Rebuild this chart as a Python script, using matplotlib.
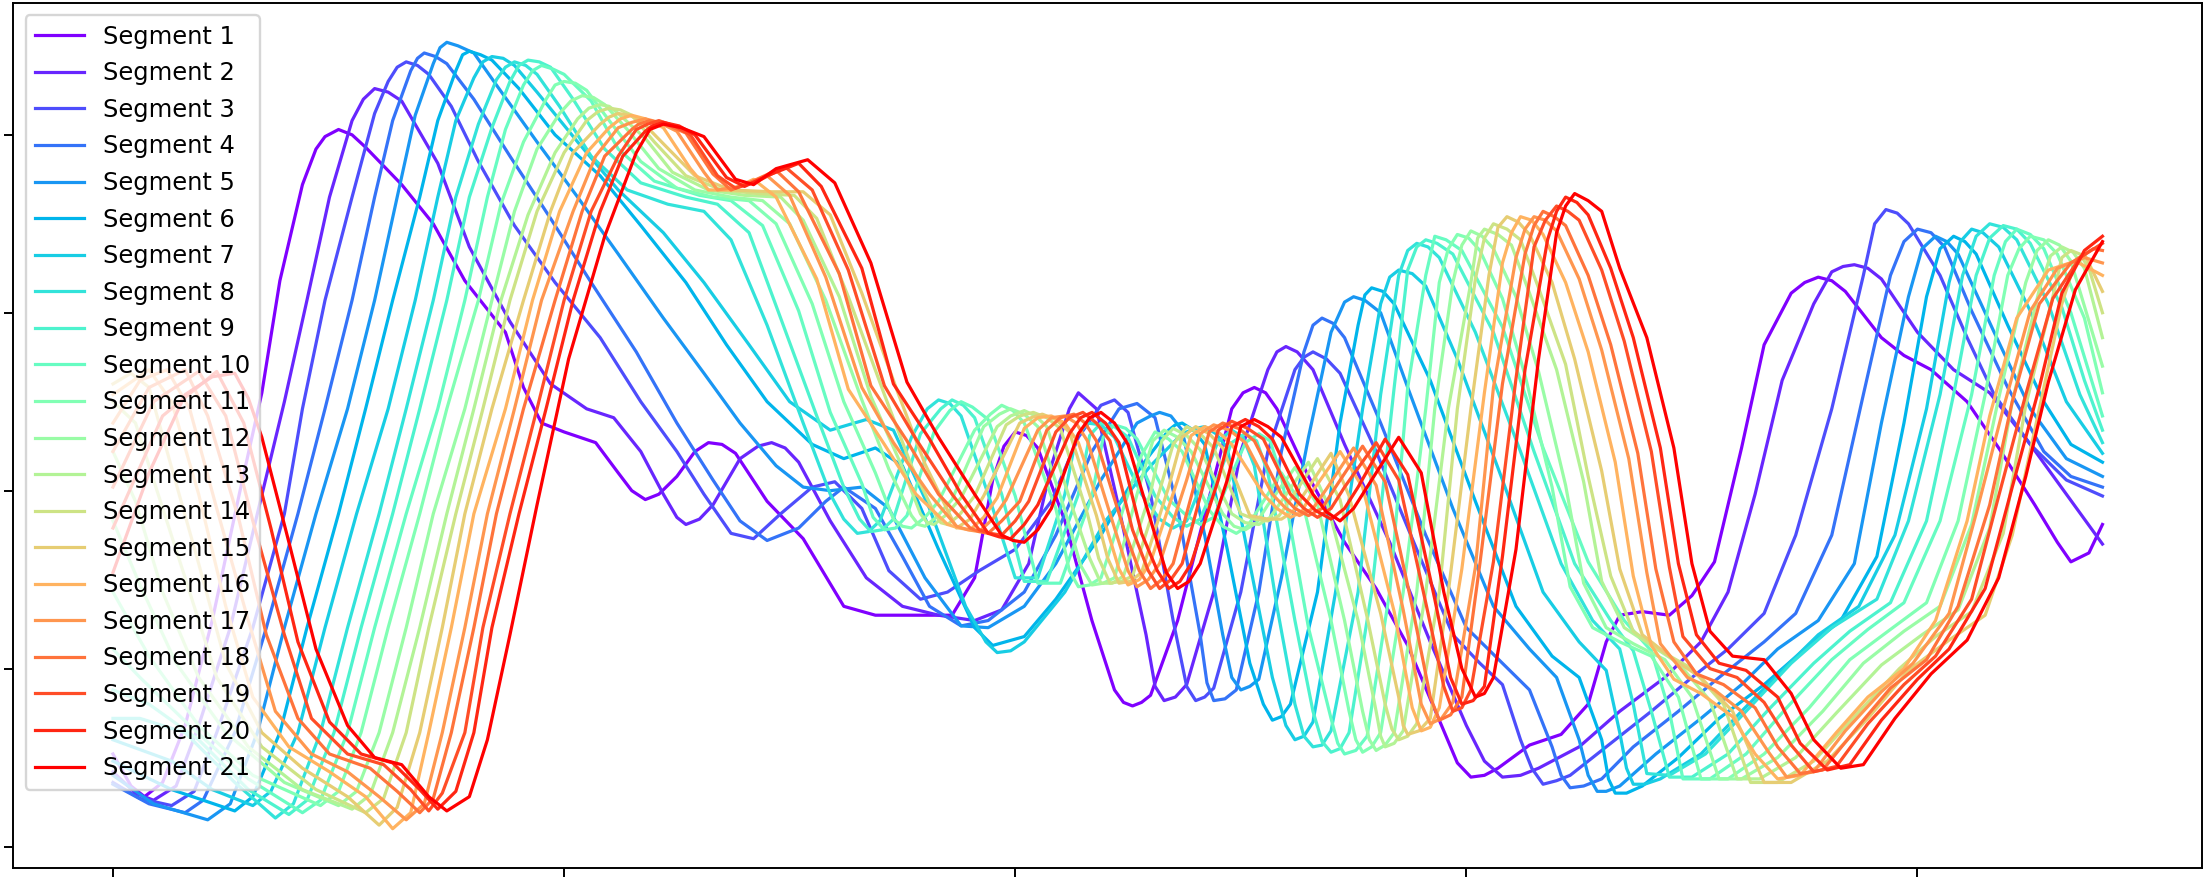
import numpy as np
import matplotlib
matplotlib.use("Agg")
import matplotlib.pyplot as plt

# sample index / amplitude pairs
seg01_x = [0, 4, 7, 11, 16, 22, 28, 33, 37, 42, 45, 47, 50, 53, 56, 64, 71, 78, 87, 91, 95, 100, 107, 112, 115, 118, 121, 125, 129, 132, 135, 138, 145, 153, 162, 169, 178, 186, 191, 195, 197.5, 200, 202.5, 205, 211, 217, 222, 224, 226, 228, 230, 236, 244, 248, 250.5, 253, 255.5, 258, 265, 273, 280, 287, 295, 298, 301, 304, 307, 314, 321, 327, 331, 334, 339, 345, 350, 355, 361, 366, 372, 375, 378, 381, 384, 392, 397, 403, 411, 418, 426, 431, 434, 438, 441]
seg01_y = [-1.48, -1.66, -1.72, -1.64, -1.32, -0.73, -0.02, 0.55, 1.18, 1.72, 1.92, 1.99, 2.03, 2.00, 1.93, 1.72, 1.50, 1.18, 0.89, 0.58, 0.38, 0.33, 0.27, 0.10, 0.00, -0.05, -0.02, 0.08, 0.22, 0.27, 0.26, 0.21, -0.06, -0.27, -0.65, -0.70, -0.70, -0.70, -0.49, 0.06, 0.25, 0.33, 0.31, 0.24, -0.17, -0.73, -1.12, -1.19, -1.21, -1.19, -1.15, -0.73, 0.06, 0.46, 0.55, 0.58, 0.55, 0.46, 0.08, -0.29, -0.55, -0.87, -1.35, -1.53, -1.61, -1.60, -1.56, -1.43, -1.37, -1.20, -0.85, -0.70, -0.68, -0.70, -0.59, -0.40, 0.24, 0.82, 1.11, 1.17, 1.20, 1.18, 1.12, 0.86, 0.76, 0.68, 0.50, 0.24, -0.08, -0.29, -0.40, -0.35, -0.19]

seg02_x = [0, 5, 9, 14, 19, 26, 32, 38, 43, 48, 53, 55.5, 58, 61, 64, 72, 79, 88, 97, 105, 111, 117, 122, 125, 127, 130, 133, 139, 143, 146, 149, 152, 159, 167, 175, 183, 191, 197, 203, 208, 212, 214, 218, 223, 229, 231, 233, 235.5, 238, 244, 250, 256, 258, 260, 262.5, 266, 273, 283, 292, 300, 304, 308, 312, 316, 325, 334, 344, 352, 358, 364, 370, 377, 381, 383.5, 386, 389, 392, 400, 408, 416, 425, 433, 441]
seg02_y = [-1.58, -1.70, -1.74, -1.66, -1.32, -0.77, -0.13, 0.50, 1.07, 1.65, 2.08, 2.20, 2.26, 2.24, 2.19, 1.84, 1.37, 0.95, 0.60, 0.46, 0.41, 0.22, -0.02, -0.15, -0.19, -0.16, -0.08, 0.18, 0.25, 0.27, 0.24, 0.16, -0.17, -0.49, -0.65, -0.70, -0.73, -0.67, -0.41, 0.14, 0.46, 0.55, 0.46, -0.10, -0.81, -1.10, -1.18, -1.16, -1.09, -0.57, 0.22, 0.68, 0.78, 0.81, 0.78, 0.68, 0.26, -0.29, -0.85, -1.32, -1.52, -1.61, -1.60, -1.56, -1.44, -1.24, -1.05, -0.85, -0.57, -0.02, 0.62, 1.05, 1.23, 1.26, 1.27, 1.25, 1.19, 0.89, 0.68, 0.55, 0.26, -0.02, -0.30]

seg03_x = [0, 6, 13, 18, 23, 31, 38, 42, 47, 53, 58, 61, 63, 65, 67.5, 70, 75, 81, 89, 98, 108, 117, 125, 131, 137, 142, 148, 155, 160, 166, 172, 179, 185, 192, 200, 208, 214, 219, 222, 225, 230, 235, 238, 240, 242, 244, 250, 256, 262, 264, 266, 269, 272, 280, 289, 297, 303, 308, 312, 314.5, 317, 320, 323, 331, 341, 350, 358, 366, 373, 381, 388, 390.5, 393, 395.5, 398, 405, 411, 417, 425, 433, 441]
seg03_y = [-1.64, -1.73, -1.77, -1.69, -1.36, -0.77, -0.13, 0.46, 1.07, 1.65, 2.12, 2.30, 2.38, 2.41, 2.39, 2.34, 2.16, 1.85, 1.49, 1.17, 0.86, 0.50, 0.22, -0.02, -0.24, -0.27, -0.13, 0.02, 0.05, -0.10, -0.45, -0.61, -0.57, -0.45, -0.33, -0.06, 0.30, 0.48, 0.51, 0.44, -0.02, -0.73, -1.10, -1.18, -1.16, -1.11, -0.57, 0.22, 0.68, 0.75, 0.78, 0.74, 0.66, 0.22, -0.33, -0.81, -0.97, -1.09, -1.40, -1.56, -1.65, -1.63, -1.60, -1.44, -1.24, -1.05, -0.89, -0.69, -0.25, 0.46, 1.21, 1.50, 1.58, 1.56, 1.50, 1.21, 0.86, 0.54, 0.26, 0.06, -0.03]

seg04_x = [0, 8, 16, 20, 27, 34, 41, 47, 53, 58, 62, 66, 67.5, 69, 71.5, 74, 80, 88, 97, 106, 116, 125, 133, 139, 145, 152, 158, 162, 169, 175, 181, 188, 194, 202, 209, 217, 223, 227, 231, 236, 241, 242.5, 244, 246.5, 249, 254, 259, 264, 266, 268, 270.5, 273, 281, 291, 300, 308, 314, 319, 321, 323, 326, 330, 337, 347, 356, 366, 373, 381, 388, 394, 397, 400, 403, 406, 412, 420, 428, 434, 441]
seg04_y = [-1.65, -1.76, -1.81, -1.74, -1.36, -0.77, -0.13, 0.46, 1.07, 1.65, 2.08, 2.36, 2.43, 2.46, 2.44, 2.40, 2.20, 1.88, 1.53, 1.17, 0.78, 0.38, 0.06, -0.17, -0.28, -0.21, -0.06, 0.02, -0.10, -0.37, -0.65, -0.76, -0.73, -0.57, -0.25, 0.22, 0.46, 0.49, 0.41, -0.10, -0.81, -1.08, -1.18, -1.17, -1.12, -0.57, 0.22, 0.78, 0.93, 0.97, 0.94, 0.86, 0.38, -0.25, -0.77, -0.97, -1.12, -1.44, -1.60, -1.67, -1.66, -1.62, -1.44, -1.24, -1.05, -0.85, -0.69, -0.25, 0.54, 1.21, 1.40, 1.47, 1.45, 1.37, 1.01, 0.58, 0.22, 0.08, 0.02]

seg05_x = [0, 9, 21, 26, 32, 38, 45, 52, 58, 63, 67, 71, 72.5, 74, 76.5, 80, 85, 94, 103, 112, 122, 131, 139, 147, 153, 159, 166, 172, 180, 188, 194, 202, 209, 219, 227, 230, 232, 234.5, 237, 242, 246, 248, 250, 252, 254, 259, 265, 270, 273, 275, 277.5, 281, 287, 297, 306, 314, 320, 325, 327, 329, 331, 334, 342, 352, 361, 369, 378, 386, 392, 398, 401, 404, 406.5, 409, 417, 425, 433, 441]
seg05_y = [-1.60, -1.76, -1.85, -1.76, -1.36, -0.77, -0.13, 0.46, 1.07, 1.65, 2.11, 2.40, 2.49, 2.52, 2.50, 2.46, 2.28, 1.96, 1.65, 1.33, 0.97, 0.66, 0.38, 0.14, 0.02, 0.00, 0.02, -0.10, -0.49, -0.76, -0.77, -0.65, -0.41, 0.06, 0.38, 0.42, 0.44, 0.42, 0.34, -0.25, -0.81, -1.05, -1.12, -1.10, -1.06, -0.49, 0.30, 0.89, 1.06, 1.09, 1.07, 1.00, 0.58, -0.10, -0.65, -0.89, -1.05, -1.40, -1.60, -1.69, -1.69, -1.66, -1.48, -1.28, -1.09, -0.89, -0.73, -0.41, 0.38, 1.09, 1.36, 1.43, 1.40, 1.33, 0.89, 0.46, 0.18, 0.08]

seg06_x = [0, 13, 27, 31, 37, 43, 50, 56, 62, 68, 72, 76, 77.5, 79, 81.5, 84, 90, 98, 108, 117, 127, 136, 145, 155, 162, 169, 175, 183, 191, 195, 202, 209, 219, 228, 234, 235.5, 237, 239.5, 242, 247, 252, 255, 257, 259, 261, 267, 272, 276, 277.5, 279, 281.5, 284, 292, 302, 311, 319, 325, 330, 331.5, 333, 335.5, 339, 347, 356, 366, 375, 383, 391, 397, 402, 405, 408, 410.5, 413, 420, 428, 434, 441]
seg06_y = [-1.52, -1.68, -1.80, -1.72, -1.36, -0.77, -0.13, 0.46, 1.07, 1.65, 2.08, 2.36, 2.45, 2.47, 2.45, 2.42, 2.26, 2.00, 1.77, 1.49, 1.17, 0.82, 0.50, 0.26, 0.18, 0.24, 0.14, -0.33, -0.77, -0.87, -0.82, -0.61, -0.25, 0.14, 0.34, 0.37, 0.38, 0.34, 0.26, -0.33, -0.97, -1.20, -1.29, -1.27, -1.20, -0.57, 0.38, 0.93, 1.10, 1.14, 1.12, 1.05, 0.62, -0.06, -0.65, -0.93, -1.05, -1.40, -1.62, -1.70, -1.70, -1.66, -1.50, -1.28, -1.09, -0.89, -0.73, -0.37, 0.38, 1.09, 1.36, 1.43, 1.40, 1.33, 0.93, 0.50, 0.26, 0.16]

seg07_x = [0, 13, 22, 31, 35, 41, 47, 54, 61, 67, 72, 76, 80, 82, 84, 86.5, 89, 94, 103, 112, 122, 131, 141, 150, 159, 167, 173, 181, 189, 193.5, 196, 199, 202, 211, 220, 230, 237, 240, 242, 244.5, 247, 252, 257, 260, 262, 264, 266, 271, 277, 281, 283, 285, 288, 291, 298, 308, 317, 325, 331, 334, 335.5, 337, 339.5, 343, 352, 361, 370, 378, 387, 395, 402, 407, 409.5, 412, 414.5, 418, 425, 433, 441]
seg07_y = [-1.40, -1.52, -1.68, -1.77, -1.69, -1.36, -0.77, -0.13, 0.46, 1.07, 1.65, 2.08, 2.32, 2.41, 2.44, 2.43, 2.39, 2.24, 1.96, 1.69, 1.45, 1.17, 0.82, 0.50, 0.34, 0.40, 0.34, -0.10, -0.65, -0.85, -0.91, -0.90, -0.85, -0.57, -0.17, 0.14, 0.32, 0.35, 0.36, 0.32, 0.24, -0.41, -1.05, -1.32, -1.40, -1.38, -1.30, -0.57, 0.46, 1.05, 1.20, 1.24, 1.22, 1.15, 0.74, 0.06, -0.57, -0.85, -1.01, -1.36, -1.56, -1.65, -1.65, -1.62, -1.48, -1.24, -1.01, -0.81, -0.65, -0.25, 0.46, 1.17, 1.40, 1.47, 1.45, 1.37, 1.01, 0.50, 0.21]

seg08_x = [0, 6, 16, 27, 36, 40, 46, 52, 59, 65, 71, 76, 81, 85, 87, 89, 91.5, 94, 99, 106, 114, 123, 131, 137, 145, 153, 159, 162, 165, 167.5, 170, 177, 180.5, 183, 185.5, 188, 194, 200, 205, 211, 213.5, 216, 219, 222, 228, 232, 235, 238, 241, 245, 248, 250.5, 253, 258, 262, 264, 266, 268, 270, 276, 281, 285, 287, 289, 291.5, 294, 302, 312, 321, 328, 334, 337, 340, 345, 353, 362, 372, 381, 391, 398, 405, 410, 413, 416, 419, 422, 429, 436, 441]
seg08_y = [-1.28, -1.28, -1.36, -1.64, -1.84, -1.76, -1.36, -0.77, -0.13, 0.46, 1.07, 1.65, 2.06, 2.31, 2.38, 2.41, 2.39, 2.34, 2.16, 1.88, 1.69, 1.61, 1.57, 1.41, 0.93, 0.38, -0.02, -0.16, -0.24, -0.23, -0.17, 0.30, 0.46, 0.51, 0.49, 0.42, -0.02, -0.49, -0.49, -0.02, 0.30, 0.38, 0.37, 0.30, -0.02, -0.16, -0.21, -0.17, 0.02, 0.28, 0.34, 0.30, 0.14, -0.65, -1.20, -1.38, -1.44, -1.43, -1.35, -0.57, 0.54, 1.21, 1.35, 1.39, 1.37, 1.31, 0.89, 0.22, -0.41, -0.73, -0.89, -1.20, -1.59, -1.60, -1.48, -1.24, -0.97, -0.77, -0.61, -0.17, 0.54, 1.21, 1.43, 1.50, 1.48, 1.41, 1.05, 0.54, 0.27]

seg09_x = [0, 8, 19, 30, 39, 43, 49, 55, 62, 68, 74, 79, 84, 88, 90, 92, 94.5, 97, 102, 109, 117, 127, 134, 141, 148, 156, 162, 165.5, 168, 170.5, 173, 179, 183.5, 186, 188.5, 191, 197, 202, 207, 214, 216.5, 219, 222, 225, 231, 235, 238, 241, 244, 248, 251, 253.5, 256, 262, 266, 268, 270, 272, 274, 279, 284, 287, 289, 291, 293.5, 297, 306, 315, 324, 332, 337, 341, 345, 350, 358, 367, 377, 385, 394, 402, 408, 413, 416, 419, 422, 425, 432, 437, 441]
seg09_y = [-1.12, -1.20, -1.40, -1.68, -1.82, -1.74, -1.36, -0.77, -0.13, 0.46, 1.07, 1.65, 2.04, 2.30, 2.39, 2.42, 2.41, 2.38, 2.20, 1.92, 1.73, 1.65, 1.61, 1.45, 0.97, 0.42, 0.02, -0.16, -0.23, -0.22, -0.16, 0.32, 0.46, 0.51, 0.48, 0.41, -0.02, -0.51, -0.51, -0.02, 0.31, 0.38, 0.36, 0.30, -0.03, -0.15, -0.20, -0.16, 0.02, 0.27, 0.32, 0.28, 0.10, -0.73, -1.24, -1.41, -1.47, -1.45, -1.36, -0.57, 0.58, 1.24, 1.37, 1.41, 1.39, 1.33, 0.89, 0.22, -0.41, -0.73, -0.90, -1.24, -1.61, -1.61, -1.48, -1.23, -0.97, -0.79, -0.63, -0.17, 0.54, 1.21, 1.42, 1.49, 1.47, 1.39, 1.03, 0.62, 0.34]

seg10_x = [0, 6, 17, 30, 42, 46, 52, 58, 65, 72, 78, 83, 87, 91, 93, 95, 97.5, 100, 106, 112, 120, 130, 137, 144, 152, 159, 166, 168.5, 171, 173.5, 176, 182, 185.5, 188, 190.5, 194, 200, 205, 210, 217, 219.5, 222, 224.5, 227, 234, 238, 241, 244, 247, 251, 254, 256.5, 259, 265, 270, 271.5, 273, 275.5, 278, 283, 287, 291, 293, 295.5, 299, 308, 317, 327, 335, 341, 345, 348, 354, 362, 371, 381, 389, 397, 405, 412, 417, 419.5, 422, 425, 428, 434, 441]
seg10_y = [-0.89, -1.05, -1.32, -1.62, -1.81, -1.74, -1.36, -0.77, -0.13, 0.46, 1.07, 1.65, 2.03, 2.28, 2.36, 2.39, 2.37, 2.34, 2.19, 1.92, 1.74, 1.66, 1.63, 1.49, 1.01, 0.44, 0.04, -0.15, -0.22, -0.21, -0.14, 0.33, 0.45, 0.50, 0.47, 0.40, -0.03, -0.52, -0.52, -0.03, 0.30, 0.37, 0.35, 0.29, -0.05, -0.14, -0.19, -0.15, 0.03, 0.27, 0.32, 0.28, 0.08, -0.77, -1.28, -1.42, -1.48, -1.46, -1.38, -0.57, 0.58, 1.21, 1.43, 1.41, 1.35, 0.92, 0.24, -0.40, -0.73, -0.90, -1.24, -1.62, -1.62, -1.48, -1.22, -0.95, -0.78, -0.63, -0.17, 0.54, 1.21, 1.40, 1.47, 1.44, 1.36, 1.00, 0.42]

seg11_x = [0, 8, 19, 31, 46, 50, 55, 61, 68, 74, 81, 86, 91, 96, 98, 100, 102.5, 105, 110, 117, 125, 133, 141, 147, 155, 162, 169, 173, 175, 177, 180, 183, 191, 194.5, 197, 199.5, 202, 209, 212, 214, 216.5, 219, 225, 228, 231, 234, 237, 243, 246, 249, 251.5, 254, 259, 264, 270, 274, 275.5, 277, 279, 281, 286, 291, 294, 296, 298, 300.5, 303, 308, 313, 319, 323, 328, 334, 341, 347, 352, 358, 366, 376, 385, 394, 402, 409, 415, 420, 422.5, 425, 428, 431, 437, 441]
seg11_y = [-0.57, -0.93, -1.32, -1.60, -1.77, -1.69, -1.36, -0.77, -0.13, 0.46, 1.07, 1.61, 1.96, 2.20, 2.28, 2.30, 2.29, 2.25, 2.08, 1.85, 1.70, 1.65, 1.63, 1.50, 1.05, 0.50, 0.10, -0.16, -0.20, -0.21, -0.15, -0.06, 0.34, 0.43, 0.48, 0.45, 0.38, -0.10, -0.45, -0.54, -0.53, -0.49, -0.02, 0.20, 0.33, 0.29, 0.22, -0.11, -0.20, -0.24, -0.20, -0.10, 0.10, -0.10, -0.73, -1.24, -1.40, -1.47, -1.44, -1.36, -0.57, 0.46, 1.17, 1.36, 1.44, 1.42, 1.35, 1.08, 0.65, 0.02, -0.54, -0.77, -0.85, -0.93, -1.16, -1.62, -1.62, -1.48, -1.22, -0.95, -0.78, -0.63, -0.17, 0.54, 1.21, 1.36, 1.43, 1.41, 1.33, 0.97, 0.55]

seg12_x = [0, 6, 14, 25, 38, 50, 54, 59, 65, 71, 78, 84, 89, 94, 99, 101.5, 104, 106.5, 109, 114, 121, 129, 137, 144, 150, 158, 166, 172, 177, 178.5, 180, 182.5, 186, 193, 196.5, 199, 202, 205, 211, 214.5, 217, 219.5, 222, 227, 230.5, 233, 236, 239, 246, 248.5, 251, 253.5, 256, 262, 267, 273, 277, 278.5, 280, 282, 284, 289, 293, 297, 299, 301, 303.5, 306, 311, 316, 322, 326, 331, 337, 344, 350, 356, 361, 369, 379, 388, 397, 405, 412, 418, 424, 426.5, 429, 431.5, 434, 441]
seg12_y = [-0.17, -0.53, -0.97, -1.36, -1.64, -1.77, -1.69, -1.36, -0.77, -0.13, 0.46, 1.07, 1.57, 1.92, 2.12, 2.19, 2.22, 2.21, 2.17, 2.03, 1.81, 1.69, 1.65, 1.63, 1.50, 1.07, 0.51, 0.12, -0.14, -0.19, -0.20, -0.15, -0.05, 0.36, 0.43, 0.46, 0.43, 0.36, -0.11, -0.42, -0.53, -0.52, -0.49, -0.02, 0.28, 0.34, 0.30, 0.22, -0.13, -0.20, -0.22, -0.18, -0.08, 0.13, -0.08, -0.73, -1.24, -1.40, -1.46, -1.43, -1.36, -0.57, 0.46, 1.17, 1.38, 1.46, 1.43, 1.36, 1.09, 0.67, 0.03, -0.52, -0.77, -0.86, -0.95, -1.16, -1.62, -1.62, -1.50, -1.24, -0.97, -0.79, -0.65, -0.19, 0.52, 1.17, 1.35, 1.41, 1.38, 1.29, 0.70]

seg13_x = [0, 5, 11, 19, 30, 42, 53, 57, 62, 68, 74, 80, 86, 92, 98, 103, 105.5, 108, 110, 112, 118, 124, 132, 140, 148, 153, 161, 168, 175, 179, 180.5, 182, 184.5, 188, 196, 199, 202, 204.5, 207, 213, 216.5, 219, 221.5, 224, 230, 232.5, 235, 238, 241, 248, 251, 254, 256.5, 259, 265, 269, 276, 280, 281, 282, 284, 286, 291, 296, 301, 302.5, 304, 307, 310, 314, 320, 326, 330, 335, 341, 347, 354, 360, 365, 373, 382, 392, 401, 409, 416, 421, 427, 429.5, 432, 434.5, 437, 441]
seg13_y = [0.22, -0.06, -0.57, -1.05, -1.44, -1.68, -1.79, -1.71, -1.36, -0.77, -0.13, 0.46, 1.07, 1.55, 1.90, 2.09, 2.15, 2.17, 2.16, 2.12, 1.98, 1.79, 1.69, 1.66, 1.65, 1.52, 1.09, 0.53, 0.13, -0.13, -0.18, -0.19, -0.14, -0.04, 0.36, 0.42, 0.45, 0.42, 0.36, -0.12, -0.38, -0.52, -0.52, -0.48, -0.01, 0.28, 0.35, 0.31, 0.23, -0.13, -0.18, -0.19, -0.15, -0.06, 0.16, -0.06, -0.73, -1.24, -1.38, -1.44, -1.42, -1.35, -0.57, 0.46, 1.17, 1.42, 1.47, 1.44, 1.38, 1.11, 0.68, 0.05, -0.51, -0.77, -0.87, -0.97, -1.18, -1.62, -1.62, -1.50, -1.25, -0.98, -0.81, -0.67, -0.21, 0.50, 1.13, 1.32, 1.37, 1.34, 1.25, 0.86]

seg14_x = [0, 5, 9, 16, 23, 33, 45, 56, 60, 65, 70, 76, 82, 88, 94, 100, 105, 107.5, 110, 112.5, 115, 120, 127, 135, 143, 151, 156, 163, 171, 177, 182, 183.5, 185, 187.5, 191, 198, 201, 204, 207, 210, 216, 218.5, 221, 223.5, 226, 232, 235, 238, 241, 244, 250, 253, 256, 258.5, 261, 267, 272, 278, 282, 283.5, 285, 287, 289, 294, 298, 302, 304, 306, 309, 312, 316, 322, 327, 332, 337, 343, 350, 357, 363, 369, 377, 386, 396, 404, 412, 419, 424, 430, 432, 434, 436, 438, 441]
seg14_y = [0.50, 0.38, 0.06, -0.49, -1.05, -1.44, -1.68, -1.81, -1.73, -1.36, -0.77, -0.13, 0.46, 1.07, 1.57, 1.90, 2.08, 2.13, 2.15, 2.14, 2.11, 1.96, 1.77, 1.69, 1.67, 1.66, 1.53, 1.09, 0.54, 0.14, -0.12, -0.18, -0.19, -0.14, -0.03, 0.37, 0.42, 0.44, 0.41, 0.35, -0.13, -0.38, -0.52, -0.51, -0.48, 0.00, 0.26, 0.36, 0.32, 0.24, -0.13, -0.16, -0.17, -0.14, -0.05, 0.18, -0.05, -0.71, -1.20, -1.34, -1.40, -1.38, -1.31, -0.57, 0.46, 1.19, 1.42, 1.50, 1.47, 1.41, 1.14, 0.71, 0.08, -0.48, -0.79, -0.90, -1.00, -1.20, -1.64, -1.64, -1.52, -1.27, -1.00, -0.82, -0.68, -0.24, 0.48, 1.09, 1.31, 1.35, 1.33, 1.25, 1.00]

seg15_x = [0, 4, 8, 12, 19, 25, 33, 42, 52, 59, 63, 68, 73, 78, 84, 91, 97, 102, 108, 110, 112, 114.5, 117, 122, 129, 137, 146, 153, 159, 166, 174, 180, 185, 187, 190, 193, 201, 203.5, 206, 209, 212, 218, 220.5, 223, 225.5, 228, 234, 237, 240, 243, 246, 252, 256, 259, 261.5, 264, 270, 274, 281, 285, 286, 287, 289.5, 292, 296, 301, 305, 307, 309, 311.5, 314, 319, 324, 330, 334, 339, 346, 352, 359, 366, 372, 380, 389, 398, 407, 415, 421, 427, 432, 434.5, 437, 441]
seg15_y = [0.60, 0.66, 0.58, 0.22, -0.41, -0.97, -1.36, -1.56, -1.72, -1.88, -1.78, -1.36, -0.77, -0.13, 0.46, 1.07, 1.57, 1.90, 2.06, 2.10, 2.12, 2.11, 2.08, 1.95, 1.77, 1.69, 1.68, 1.68, 1.55, 1.11, 0.55, 0.15, -0.11, -0.21, -0.16, -0.03, 0.38, 0.41, 0.43, 0.40, 0.33, -0.14, -0.38, -0.52, -0.51, -0.46, 0.02, 0.30, 0.36, 0.32, 0.24, -0.14, -0.16, -0.16, -0.12, -0.02, 0.21, -0.03, -0.69, -1.16, -1.32, -1.37, -1.35, -1.28, -0.57, 0.46, 1.21, 1.48, 1.54, 1.51, 1.44, 1.17, 0.74, 0.11, -0.44, -0.81, -0.95, -1.05, -1.24, -1.64, -1.64, -1.52, -1.28, -1.01, -0.84, -0.70, -0.25, 0.46, 1.05, 1.25, 1.33, 1.12]

seg16_x = [0, 8, 13, 19, 25, 31, 39, 48, 56, 62, 66, 70, 75, 80, 87, 93, 99, 105, 110, 112.5, 115, 118, 122, 128, 132, 137, 142, 147, 156, 163, 171, 178, 185, 187.5, 190, 193, 196, 202, 205, 208, 211, 214, 220, 223, 225, 227.5, 230, 236, 239, 242, 245, 248, 255, 258, 261, 263.5, 266, 272, 277, 284, 288, 290, 292, 294, 299, 304, 308, 310, 312, 314.5, 317, 322, 327, 333, 337, 341, 346, 352, 359, 364, 369, 374, 382, 389, 397, 404, 411, 416, 422, 429, 435, 441]
seg16_y = [0.54, 0.68, 0.50, -0.02, -0.65, -1.16, -1.44, -1.58, -1.72, -1.90, -1.81, -1.36, -0.77, -0.13, 0.46, 1.07, 1.57, 1.90, 2.04, 2.09, 2.11, 2.09, 2.04, 1.81, 1.69, 1.69, 1.75, 1.65, 1.19, 0.57, 0.26, -0.02, -0.19, -0.21, -0.22, -0.15, -0.04, 0.35, 0.41, 0.42, 0.38, 0.27, -0.19, -0.44, -0.53, -0.50, -0.40, 0.06, 0.31, 0.36, 0.33, 0.26, -0.02, -0.10, -0.15, -0.12, 0.00, 0.22, 0.02, -0.68, -1.22, -1.35, -1.33, -1.22, -0.44, 0.55, 1.28, 1.45, 1.54, 1.52, 1.44, 1.17, 0.78, 0.16, -0.48, -0.87, -1.06, -1.14, -1.27, -1.48, -1.62, -1.60, -1.36, -1.16, -1.00, -0.73, -0.17, 0.42, 0.97, 1.24, 1.29, 1.21]

seg17_x = [0, 6, 12, 17, 23, 30, 36, 44, 52, 59, 65, 69, 73, 78, 83, 89, 95, 102, 107, 112, 115, 118, 121, 125, 131, 134, 139, 145, 150, 158, 166, 173, 181, 187, 189.5, 192, 195, 198, 205, 208, 211, 213.5, 216, 222, 225, 227, 229.5, 232, 238, 241, 244, 247.5, 251, 257, 260, 263, 266, 269, 275, 280, 286, 290, 292, 294.5, 297, 302, 306, 311, 313, 315, 317.5, 320, 325, 330, 336, 340, 343, 349, 355, 361, 367, 371, 377, 384, 392, 399, 407, 413, 419, 425, 431, 437, 441]
seg17_y = [0.38, 0.62, 0.68, 0.46, -0.10, -0.73, -1.24, -1.48, -1.58, -1.72, -1.85, -1.76, -1.36, -0.77, -0.13, 0.46, 1.07, 1.57, 1.88, 2.04, 2.07, 2.09, 2.07, 2.02, 1.79, 1.69, 1.71, 1.77, 1.66, 1.20, 0.58, 0.27, -0.02, -0.20, -0.22, -0.23, -0.16, -0.05, 0.34, 0.41, 0.42, 0.38, 0.28, -0.21, -0.45, -0.54, -0.50, -0.41, 0.06, 0.32, 0.37, 0.34, 0.27, -0.02, -0.10, -0.14, -0.10, 0.01, 0.24, 0.03, -0.67, -1.20, -1.31, -1.28, -1.19, -0.43, 0.58, 1.31, 1.47, 1.54, 1.52, 1.46, 1.19, 0.79, 0.18, -0.46, -0.86, -1.05, -1.12, -1.24, -1.47, -1.61, -1.58, -1.35, -1.13, -0.97, -0.69, -0.13, 0.46, 1.01, 1.25, 1.31, 1.28]

seg18_x = [0, 8, 16, 21, 28, 34, 41, 48, 57, 63, 68, 71, 75, 80, 85, 91, 98, 104, 109, 115, 116.5, 119, 122.5, 127, 133, 137, 141, 147, 152, 161, 168, 176, 183, 190, 192, 194, 197, 201, 207, 210, 213, 215.5, 218, 224, 227.5, 230, 232.5, 235, 240, 243, 246, 249.5, 253, 259, 262, 265, 268, 271, 277, 282, 288, 292, 294, 296.5, 299, 303, 308, 313, 315, 317, 319.5, 322, 327, 332, 338, 342, 346, 351, 357, 364, 369, 374, 379, 387, 394, 402, 409, 416, 421, 427, 434, 439, 441]
seg18_y = [0.22, 0.58, 0.68, 0.42, -0.17, -0.81, -1.28, -1.48, -1.56, -1.69, -1.81, -1.73, -1.36, -0.77, -0.13, 0.46, 1.07, 1.57, 1.88, 2.03, 2.06, 2.08, 2.06, 2.01, 1.78, 1.69, 1.73, 1.80, 1.68, 1.22, 0.59, 0.28, -0.02, -0.21, -0.23, -0.24, -0.17, -0.06, 0.34, 0.41, 0.43, 0.38, 0.28, -0.21, -0.45, -0.55, -0.50, -0.41, 0.06, 0.33, 0.38, 0.35, 0.28, -0.02, -0.10, -0.14, -0.10, 0.02, 0.25, 0.05, -0.65, -1.16, -1.29, -1.26, -1.16, -0.41, 0.60, 1.33, 1.49, 1.57, 1.54, 1.49, 1.21, 0.82, 0.21, -0.44, -0.85, -1.03, -1.09, -1.22, -1.44, -1.59, -1.57, -1.32, -1.11, -0.95, -0.65, -0.08, 0.50, 1.05, 1.28, 1.36, 1.35]

seg19_x = [0, 9, 19, 25, 31, 38, 44, 52, 60, 66, 70, 73, 78, 82, 88, 94, 100, 106, 112, 116, 118.5, 121, 124.5, 128, 134, 138, 143, 149, 155, 163, 171, 178, 186, 192, 194.5, 197, 200, 203, 209, 212, 215, 218, 221, 226, 229.5, 232, 234.5, 237, 242, 245, 248, 251.5, 255, 261, 264, 267, 270, 273, 280, 285, 291, 295, 297, 299, 301, 306, 311, 315, 317.5, 320, 322.5, 325, 330, 335, 341, 345, 348, 354, 360, 366, 372, 377, 382, 389, 397, 404, 412, 418, 424, 430, 436, 441]
seg19_y = [0.02, 0.50, 0.67, 0.42, -0.17, -0.81, -1.28, -1.48, -1.54, -1.68, -1.80, -1.70, -1.36, -0.77, -0.13, 0.46, 1.07, 1.57, 1.88, 2.03, 2.06, 2.08, 2.05, 2.00, 1.77, 1.70, 1.74, 1.82, 1.69, 1.24, 0.59, 0.29, -0.02, -0.22, -0.24, -0.25, -0.17, -0.06, 0.33, 0.41, 0.44, 0.38, 0.28, -0.22, -0.45, -0.55, -0.50, -0.41, 0.06, 0.34, 0.39, 0.35, 0.29, -0.02, -0.10, -0.15, -0.10, 0.02, 0.27, 0.06, -0.63, -1.10, -1.24, -1.22, -1.12, -0.40, 0.63, 1.37, 1.52, 1.60, 1.57, 1.52, 1.24, 0.84, 0.22, -0.43, -0.82, -1.00, -1.05, -1.19, -1.43, -1.58, -1.55, -1.31, -1.09, -0.93, -0.61, -0.03, 0.54, 1.08, 1.31, 1.39]

seg20_x = [0, 11, 23, 29, 35, 41, 48, 55, 62, 68, 72, 76, 80, 84, 90, 96, 102, 108, 113, 118, 119.5, 122, 125.5, 129, 136, 140, 145, 152, 157, 166, 173, 181, 188, 194, 196.5, 199, 202, 205, 212, 214.5, 217, 220, 223, 228, 231.5, 234, 236.5, 239, 245, 248, 251, 254, 257, 263, 266.5, 270, 273, 276, 282, 287, 293, 296.5, 299, 301.5, 304, 308, 313, 318, 320, 322, 324.5, 327, 332, 337, 343, 347, 351, 356, 362, 369, 374, 380, 385, 392, 400, 407, 415, 421, 427, 432, 437, 441]
seg20_y = [-0.21, 0.42, 0.67, 0.38, -0.21, -0.85, -1.30, -1.48, -1.53, -1.68, -1.79, -1.69, -1.36, -0.77, -0.13, 0.46, 1.07, 1.57, 1.88, 2.02, 2.05, 2.07, 2.05, 2.00, 1.76, 1.71, 1.77, 1.84, 1.71, 1.25, 0.60, 0.29, -0.02, -0.24, -0.26, -0.27, -0.19, -0.08, 0.32, 0.41, 0.44, 0.38, 0.27, -0.24, -0.45, -0.55, -0.51, -0.41, 0.06, 0.36, 0.40, 0.36, 0.29, -0.02, -0.11, -0.16, -0.10, 0.02, 0.29, 0.09, -0.61, -1.05, -1.20, -1.18, -1.10, -0.37, 0.68, 1.41, 1.57, 1.65, 1.62, 1.55, 1.25, 0.86, 0.24, -0.41, -0.81, -0.97, -1.01, -1.16, -1.42, -1.57, -1.54, -1.29, -1.06, -0.89, -0.55, 0.02, 0.58, 1.11, 1.35, 1.43]

seg21_x = [0, 8, 16, 22, 27, 30, 33, 39, 45, 52, 58, 64, 70, 74, 79, 83, 88, 94, 101, 109, 116, 119, 122, 126, 131, 138, 142, 147, 154, 160, 168, 176, 183, 191, 197, 199.5, 202, 205, 208, 214, 216.5, 219, 222, 225, 231, 233.5, 236, 238.5, 241, 247, 250, 253, 256, 259, 266, 269, 272, 275, 278, 285, 290, 295, 299, 302, 304, 306, 311, 316, 320, 322, 324, 327, 330, 334, 340, 346, 350, 354, 359, 366, 372, 377, 383, 388, 395, 403, 411, 418, 424, 429, 435, 441]
seg21_y = [-0.46, 0.10, 0.54, 0.64, 0.66, 0.52, 0.30, -0.29, -0.89, -1.32, -1.50, -1.54, -1.72, -1.80, -1.72, -1.40, -0.81, -0.08, 0.74, 1.43, 1.90, 2.03, 2.06, 2.04, 1.99, 1.75, 1.72, 1.81, 1.86, 1.73, 1.28, 0.61, 0.30, -0.02, -0.25, -0.28, -0.29, -0.22, -0.10, 0.32, 0.41, 0.44, 0.38, 0.26, -0.25, -0.46, -0.55, -0.51, -0.41, 0.06, 0.36, 0.40, 0.36, 0.30, -0.02, -0.12, -0.17, -0.10, 0.02, 0.30, 0.10, -0.57, -1.00, -1.16, -1.14, -1.05, -0.33, 0.74, 1.45, 1.60, 1.67, 1.63, 1.57, 1.25, 0.86, 0.24, -0.41, -0.79, -0.93, -0.95, -1.14, -1.40, -1.56, -1.54, -1.28, -1.03, -0.84, -0.49, 0.08, 0.61, 1.13, 1.40]

segments = [
    (seg01_x, seg01_y), (seg02_x, seg02_y), (seg03_x, seg03_y), (seg04_x, seg04_y),
    (seg05_x, seg05_y), (seg06_x, seg06_y), (seg07_x, seg07_y), (seg08_x, seg08_y),
    (seg09_x, seg09_y), (seg10_x, seg10_y), (seg11_x, seg11_y), (seg12_x, seg12_y),
    (seg13_x, seg13_y), (seg14_x, seg14_y), (seg15_x, seg15_y), (seg16_x, seg16_y),
    (seg17_x, seg17_y), (seg18_x, seg18_y), (seg19_x, seg19_y), (seg20_x, seg20_y),
    (seg21_x, seg21_y),
]
labels = [f"Segment {i + 1}" for i in range(len(segments))]
colors = plt.cm.rainbow(np.linspace(0, 1, len(segments)))

fig = plt.figure(figsize=(22.11, 8.8), dpi=100)
ax = fig.add_axes([0.0061, 0.0136, 0.9898, 0.983])
for (xs, ys), c, lab in zip(segments, colors, labels):
    n = min(len(xs), len(ys))
    ax.plot(xs[:n], ys[:n], color=c, lw=2.3, label=lab)

ax.tick_params(labelbottom=False, labelleft=False, length=6.5, width=1.4)
for sp in ax.spines.values():
    sp.set_linewidth(1.4)
leg = ax.legend(loc="upper left", fontsize=17.4, labelspacing=0.52)
leg.get_frame().set_linewidth(1.7)

fig.savefig("out.png", dpi=100)
